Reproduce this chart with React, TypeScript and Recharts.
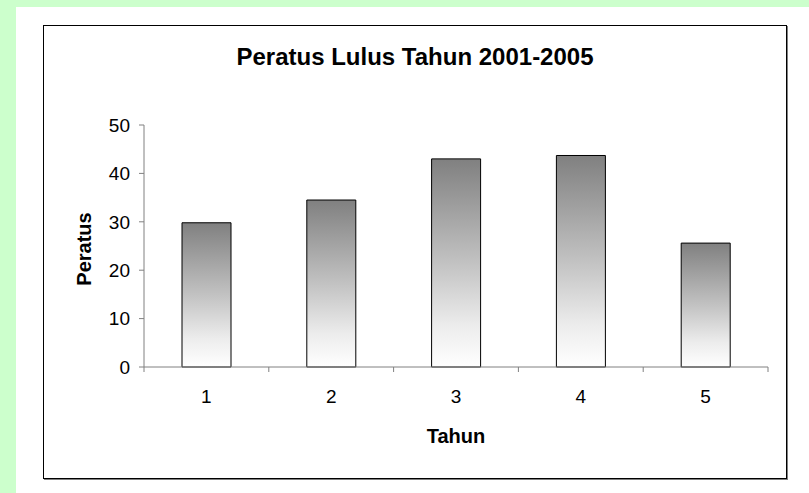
import React from 'react';
import { BarChart, Bar, XAxis, YAxis, Label } from 'recharts';

// values
const tahun = ['1', '2', '3', '4', '5'];
const peratus = [29.8, 34.5, 43.0, 43.7, 25.6];
const yTicks = [0, 10, 20, 30, 40, 50];

const data = tahun.map((t, i) => ({ tahun: t, peratus: peratus[i] }));

const FONT = '"Liberation Sans", Arial, Helvetica, sans-serif';
const AXIS_GREY = '#808080';

// Excel style: label in the middle of the category, tick marks on the category edges
const CategoryTick = (props: any) => {
  const { x, y, payload, width, index } = props;
  const half = payload && payload.offset ? payload.offset : (width || 624) / (tahun.length * 2);
  return (
    <g>
      {index === 0 && <line x1={x - half} x2={x - half} y1={y} y2={y + 5} stroke={AXIS_GREY} />}
      <line x1={x + half} x2={x + half} y1={y} y2={y + 5} stroke={AXIS_GREY} />
      <text x={x} y={y + 36} textAnchor="middle" fontFamily={FONT} fontSize={19} fill="#000">
        {payload.value}
      </text>
    </g>
  );
};

const YTitle = (props: any) => {
  const vb = props.viewBox || { x: 84, y: 125, width: 60, height: 242 };
  const cx = vb.x + 7;
  const cy = vb.y + vb.height / 2 + 3;
  return (
    <text
      x={cx}
      y={cy}
      transform={`rotate(-90 ${cx} ${cy})`}
      textAnchor="middle"
      fontFamily={FONT}
      fontSize={20}
      fontWeight="bold"
      fill="#000"
    >
      Peratus
    </text>
  );
};

const XTitle = (props: any) => {
  const vb = props.viewBox || { x: 144, y: 367, width: 624, height: 30 };
  return (
    <text
      x={vb.x + vb.width / 2}
      y={vb.y + 76}
      textAnchor="middle"
      fontFamily={FONT}
      fontSize={20}
      fontWeight="bold"
      fill="#000"
    >
      Tahun
    </text>
  );
};

const App: React.FC = () => {
  return (
    <div
      style={{
        position: 'fixed', left: 0, top: 0, width: 809, height: 493,
        background: '#ccffcc', fontFamily: FONT, overflow: 'hidden',
      }}
    >
      <div style={{ position: 'absolute', left: 16, top: 7, right: 0, bottom: 0, background: '#ffffff' }} />
      <div
        style={{
          position: 'absolute', left: 43, top: 25, width: 744, height: 454,
          boxSizing: 'border-box', border: '1px solid #000', boxShadow: '1px 1px 0 #7f7f7f',
        }}
      />
      <div
        style={{
          position: 'absolute', left: 43, top: 45, width: 744, textAlign: 'center',
          fontSize: 24, fontWeight: 'bold', lineHeight: '24px', color: '#000',
        }}
      >
        Peratus Lulus Tahun 2001-2005
      </div>
      <div style={{ position: 'absolute', left: 0, top: 0 }}>
        <BarChart
          width={809}
          height={493}
          data={data}
          margin={{ top: 125, right: 41, bottom: 96, left: 84 }}
        >
          <defs>
            <linearGradient id="barShade" x1="0" y1="0" x2="0" y2="1">
              <stop offset="0%" stopColor="#808080" />
              <stop offset="50%" stopColor="#c2c2c2" />
              <stop offset="80%" stopColor="#ececec" />
              <stop offset="100%" stopColor="#ffffff" />
            </linearGradient>
          </defs>
          <XAxis
            dataKey="tahun"
            type="category"
            height={30}
            axisLine={{ stroke: AXIS_GREY }}
            tickLine={false}
            tickSize={0}
            tickMargin={0}
            interval={0}
            tick={<CategoryTick />}
          >
            <Label content={<XTitle />} />
          </XAxis>
          <YAxis
            type="number"
            domain={[0, 50]}
            ticks={yTicks}
            interval={0}
            width={60}
            axisLine={{ stroke: AXIS_GREY }}
            tickLine={{ stroke: AXIS_GREY }}
            tickSize={5}
            tickMargin={9}
            tick={{ fill: '#000', fontSize: 19, fontFamily: FONT }}
          >
            <Label content={<YTitle />} />
          </YAxis>
          <Bar
            dataKey="peratus"
            fill="url(#barShade)"
            stroke="#000"
            strokeWidth={1}
            barSize={49}
            isAnimationActive={false}
          />
        </BarChart>
      </div>
    </div>
  );
};

export default App;
